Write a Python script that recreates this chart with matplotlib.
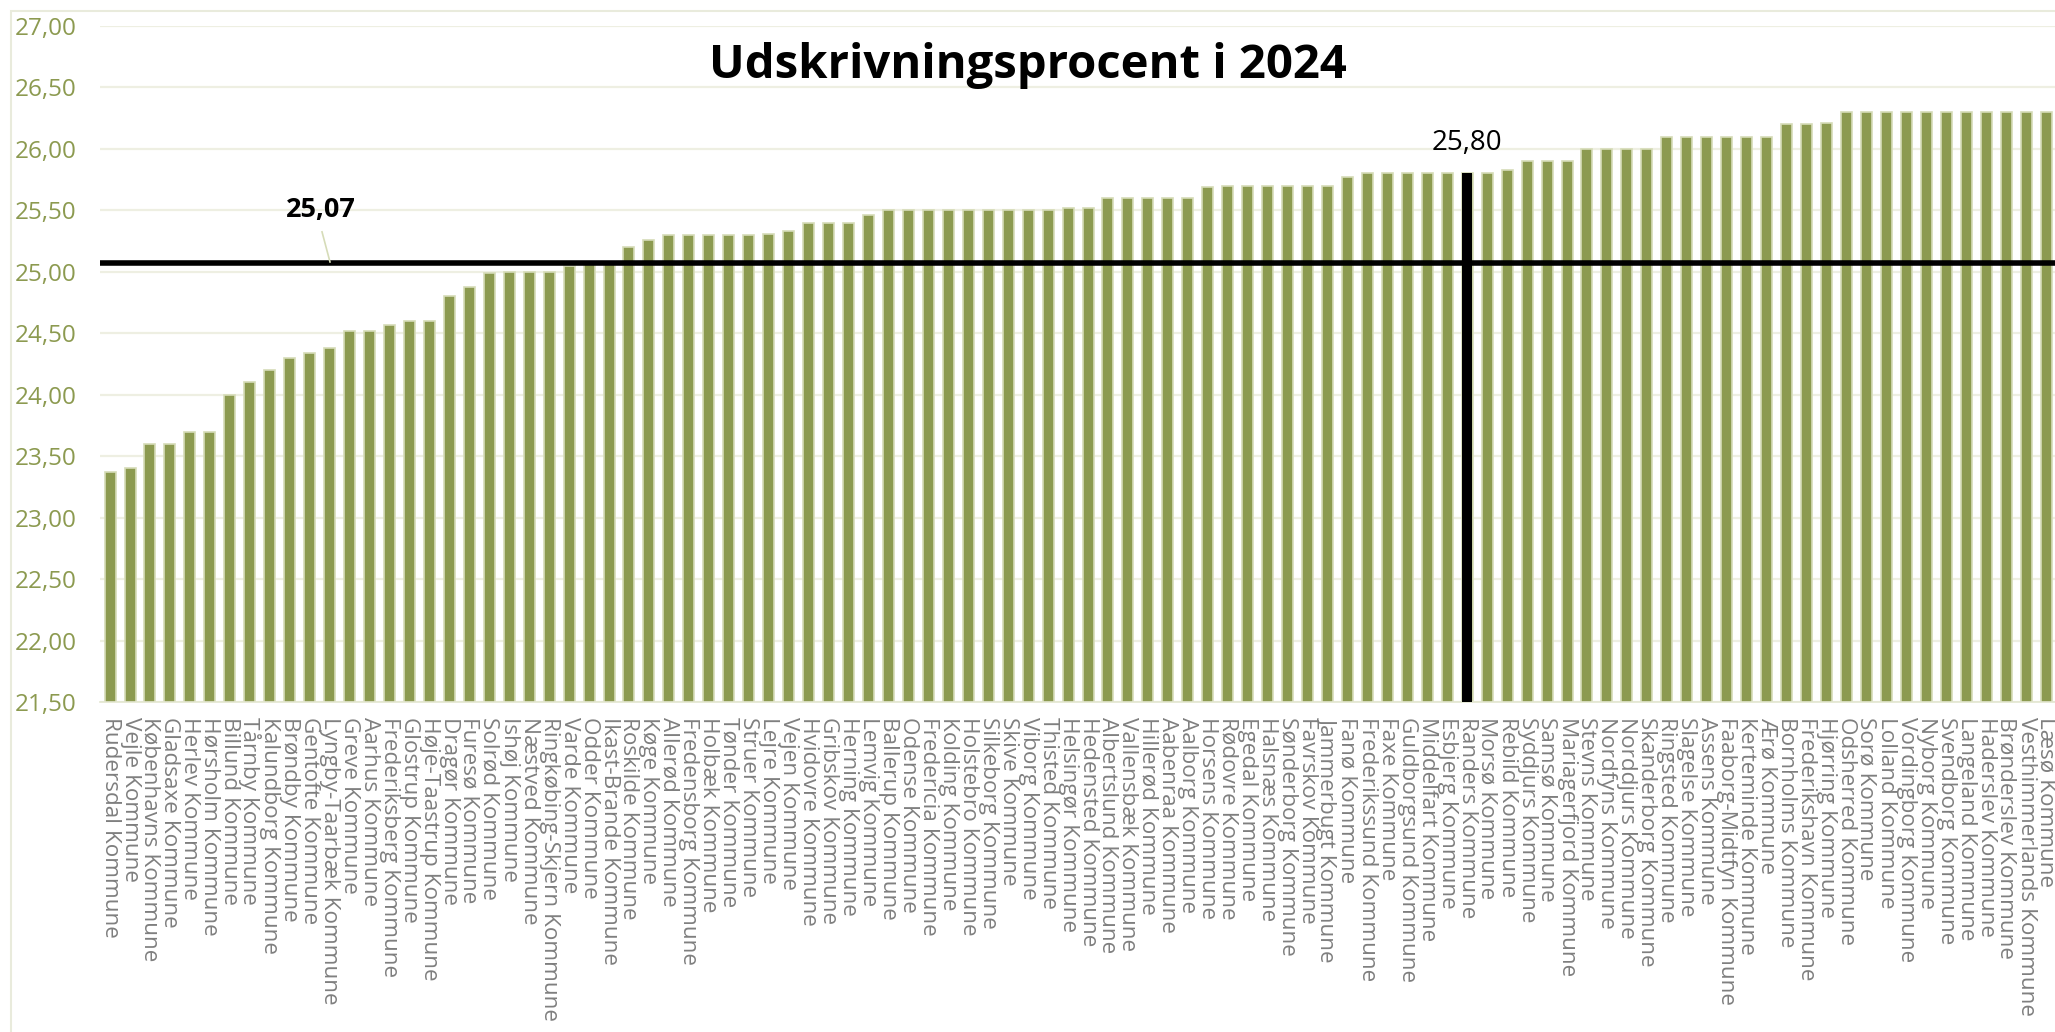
#!/usr/bin/env python3
"""
plot.py - Udskrivningsprocent i 2024, alle 98 kommuner, sorteret stigende.
Vandret linje = gennemsnit, sort soejle = median-kommunen.
"""
import matplotlib as mpl
import matplotlib.pyplot as plt
from matplotlib.patches import Rectangle
from matplotlib.ticker import FuncFormatter

KOMMUNER = [
    "Rudersdal Kommune", "Vejle Kommune", "Københavns Kommune", "Gladsaxe Kommune",
    "Herlev Kommune", "Hørsholm Kommune", "Billund Kommune", "Tårnby Kommune",
    "Kalundborg Kommune", "Brøndby Kommune", "Gentofte Kommune", "Lyngby-Taarbæk Kommune",
    "Greve Kommune", "Aarhus Kommune", "Frederiksberg Kommune", "Glostrup Kommune",
    "Høje-Taastrup Kommune", "Dragør Kommune", "Furesø Kommune", "Solrød Kommune",
    "Ishøj Kommune", "Næstved Kommune", "Ringkøbing-Skjern Kommune", "Varde Kommune",
    "Odder Kommune", "Ikast-Brande Kommune", "Roskilde Kommune", "Køge Kommune",
    "Allerød Kommune", "Fredensborg Kommune", "Holbæk Kommune", "Tønder Kommune",
    "Struer Kommune", "Lejre Kommune", "Vejen Kommune", "Hvidovre Kommune",
    "Gribskov Kommune", "Herning Kommune", "Lemvig Kommune", "Ballerup Kommune",
    "Odense Kommune", "Fredericia Kommune", "Kolding Kommune", "Holstebro Kommune",
    "Silkeborg Kommune", "Skive Kommune", "Viborg Kommune", "Thisted Kommune",
    "Helsingør Kommune", "Hedensted Kommune", "Albertslund Kommune", "Vallensbæk Kommune",
    "Hillerød Kommune", "Aabenraa Kommune", "Aalborg Kommune", "Horsens Kommune",
    "Rødovre Kommune", "Egedal Kommune", "Halsnæs Kommune", "Sønderborg Kommune",
    "Favrskov Kommune", "Jammerbugt Kommune", "Fanø Kommune", "Frederikssund Kommune",
    "Faxe Kommune", "Guldborgsund Kommune", "Middelfart Kommune", "Esbjerg Kommune",
    "Randers Kommune", "Morsø Kommune", "Rebild Kommune", "Syddjurs Kommune",
    "Samsø Kommune", "Mariagerfjord Kommune", "Stevns Kommune", "Nordfyns Kommune",
    "Norddjurs Kommune", "Skanderborg Kommune", "Ringsted Kommune", "Slagelse Kommune",
    "Assens Kommune", "Faaborg-Midtfyn Kommune", "Kerteminde Kommune", "Ærø Kommune",
    "Bornholms Kommune", "Frederikshavn Kommune", "Hjørring Kommune", "Odsherred Kommune",
    "Sorø Kommune", "Lolland Kommune", "Vordingborg Kommune", "Nyborg Kommune",
    "Svendborg Kommune", "Langeland Kommune", "Haderslev Kommune", "Brønderslev Kommune",
    "Vesthimmerlands Kommune", "Læsø Kommune",
]

PROCENT = [
    23.37, 23.40, 23.60, 23.60, 23.70, 23.70, 24.00, 24.10, 24.20, 24.30,
    24.34, 24.38, 24.52, 24.52, 24.57, 24.60, 24.60, 24.80, 24.88, 24.99,
    25.00, 25.00, 25.00, 25.05, 25.06, 25.06, 25.20, 25.26, 25.30, 25.30,
    25.30, 25.30, 25.30, 25.31, 25.33, 25.40, 25.40, 25.40, 25.46, 25.50,
    25.50, 25.50, 25.50, 25.50, 25.50, 25.50, 25.50, 25.50, 25.52, 25.52,
    25.60, 25.60, 25.60, 25.60, 25.60, 25.69, 25.70, 25.70, 25.70, 25.70,
    25.70, 25.70, 25.77, 25.80, 25.80, 25.80, 25.80, 25.80, 25.80, 25.80,
    25.83, 25.90, 25.90, 25.90, 26.00, 26.00, 26.00, 26.00, 26.10, 26.10,
    26.10, 26.10, 26.10, 26.10, 26.20, 26.20, 26.21, 26.30, 26.30, 26.30,
    26.30, 26.30, 26.30, 26.30, 26.30, 26.30, 26.30, 26.30,
]

GENNEMSNIT = 25.07
MEDIAN_KOMMUNE = "Randers Kommune"
TITEL = "Udskrivningsprocent i 2024"

BAR = "#8c9a50"
BAR_EDGE = "#d6dcb8"
GRID = "#eeefe2"
YTICK = "#8c9a50"
XTICK = "#7f7f7f"

mpl.rcParams.update({
    "font.family": ["Open Sans", "DejaVu Sans"],
})


def komma(v, _pos=None):
    return f"{v:.2f}".replace(".", ",")


def main():
    fig = plt.figure(figsize=(20.55, 10.32), dpi=100)
    ax = fig.add_axes([0.0487, 0.3198, 0.9513, 0.655])

    x = list(range(len(KOMMUNER)))
    imed = KOMMUNER.index(MEDIAN_KOMMUNE)
    ax.bar(x, PROCENT, width=0.55, color=BAR, edgecolor=BAR_EDGE, linewidth=1.2, zorder=2)
    # median-kommunen som sort soejle
    ax.bar([imed], [PROCENT[imed]], width=0.5, color="black", zorder=3)

    ax.axhline(GENNEMSNIT, color="black", lw=4.0, zorder=4)

    ax.set_xlim(-0.5, len(KOMMUNER) - 0.55)
    ax.set_ylim(21.5, 27.0)
    ax.set_yticks([21.5 + 0.5 * i for i in range(12)])
    ax.yaxis.set_major_formatter(FuncFormatter(komma))
    ax.set_xticks(x)
    ax.set_xticklabels(KOMMUNER, rotation=-90, fontsize=16.2, color=XTICK)
    ax.tick_params(axis="x", length=0, pad=11)
    ax.tick_params(axis="y", length=0, pad=17, labelsize=17.5, labelcolor=YTICK)
    ax.yaxis.grid(True, color=GRID, lw=1.6)
    ax.set_axisbelow(True)
    for s in ("top", "right", "left"):
        ax.spines[s].set_visible(False)
    ax.spines["bottom"].set_color("#e3e6d0")
    ax.spines["bottom"].set_linewidth(1.2)

    # gennemsnit-etiket med lille foererlinje
    ax.plot([10.62, 11.02], [25.325, 25.08], color=BAR_EDGE, lw=1.2, zorder=5)
    ax.text(10.57, 25.50, komma(GENNEMSNIT), ha="center", va="center",
            fontsize=19.5, fontweight="bold", color="black", zorder=5)

    ax.annotate(komma(PROCENT[imed]), xy=(imed, PROCENT[imed]), xytext=(0, 22),
                textcoords="offset points", ha="center", va="center",
                fontsize=20, color="black", zorder=5)

    fig.text(0.5, 0.937, TITEL, ha="center", va="center", fontsize=34,
             fontweight="bold", color="black")

    fig.patches.append(Rectangle((11 / 2055, -0.1), 1.2, 1.1 - 11 / 1032, fill=False,
                                 edgecolor="#e9ebdc", lw=1.5, transform=fig.transFigure,
                                 figure=fig))

    fig.savefig("out.png", dpi=100)
    plt.close(fig)


if __name__ == "__main__":
    main()
